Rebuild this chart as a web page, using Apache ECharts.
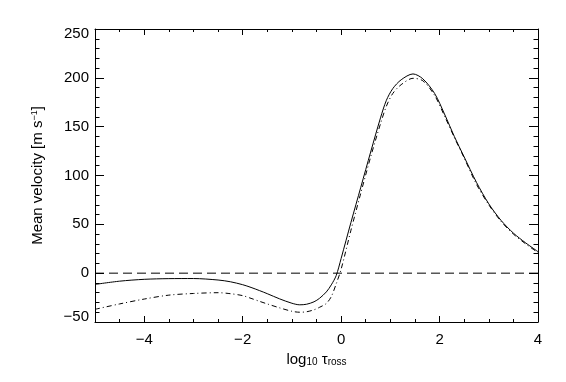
<!DOCTYPE html>
<html><head><meta charset="utf-8">
<script src="https://cdn.jsdelivr.net/npm/echarts@6/dist/echarts.min.js"></script>
<style>html,body{margin:0;padding:0;background:#fff}#c{width:566px;height:382px}</style>
</head><body><div id="c"></div>
<script>
var xs = [-5,-4.5,-4,-3.5,-3,-2.5,-2.25,-2,-1.83,-1.66,-1.5,-1.25,-1,-0.84,-0.7,-0.55,-0.44,-0.3,-0.2,-0.1,0,0.2,0.4,0.6,0.8,0.92,1.05,1.22,1.46,1.66,1.9,2.1,2.3,2.5,2.75,3,3.25,3.5,3.75,4];
var solidV = [-11.5,-8.2,-6.3,-5.6,-5.5,-7,-8.8,-11.8,-14.6,-17.8,-21,-26.3,-30.8,-32.4,-31.8,-29.3,-25.8,-19.2,-12,-2.5,15,52,88,124,159,177,189,198,204,199,184,163,140,119,93,71,54,41,31,22];
var dashDotV = [-37,-31.5,-26.5,-22.5,-20.8,-20,-21,-23,-25.8,-28.8,-31.5,-35.5,-39,-40,-39.5,-37.5,-35,-31,-24,-11,4,44,82,119,153,171,184,193,199.5,197,182,161,139,118,91,70,53,40,30,21];
var zeroLine = [[-5,0],[4,0]];
var xMajorTicks = [-4,-2,0,2,4];
var xMin = -5, xMax = 4, yMin = -50, yMax = 250;

var font = 'Liberation Sans, Arial, Helvetica, sans-serif';
function fmtNum(v){ return (v < 0 ? '\u2212' + Math.abs(v) : String(v)); }
function pairs(x, y){ return x.map(function(v,i){ return [v, y[i]]; }); }

var lineCol = '#000';
function xAxisMinor(pos, showLabel, name){
  var a = {
    type:'value', position:pos, min:xMin, max:xMax, interval:0.5,
    axisLine:{show:true, onZero:false, lineStyle:{color:lineCol,width:1}},
    axisTick:{show:true, inside:true, length:3, lineStyle:{color:lineCol}},
    splitLine:{show:false},
    axisLabel:{show:showLabel, margin:10, fontFamily:font, fontSize:15, color:'#000',
      formatter:function(v){ return (Math.abs(v % 2) < 1e-9) ? fmtNum(v) : ''; }}
  };
  if (name) {
    a.name = name; a.nameLocation='middle'; a.nameGap=28;
    a.nameTextStyle = {fontFamily:font, fontSize:15, color:'#000',
      rich:{ sub:{fontFamily:font, fontSize:10, color:'#000', verticalAlign:'bottom', padding:[6,0,0,0]} }};
  }
  return a;
}
function xAxisMajor(pos){
  return {
    type:'value', position:pos, min:xMin, max:xMax, interval:0.5,
    axisLine:{show:false, onZero:false},
    axisTick:{show:true, inside:true, length:6, customValues:xMajorTicks, lineStyle:{color:lineCol}},
    splitLine:{show:false}, axisLabel:{show:false}
  };
}
function yAxis(pos, showLabel, name){
  var a = {
    type:'value', position:pos, min:yMin, max:yMax, interval:50,
    axisLine:{show:true, onZero:false, lineStyle:{color:lineCol,width:1}},
    axisTick:{show:true, inside:true, length:9, lineStyle:{color:lineCol}},
    minorTick:{show:true, splitNumber:5, length:4.5, lineStyle:{color:lineCol}},
    splitLine:{show:false},
    axisLabel:{show:showLabel, margin:6, fontFamily:font, fontSize:15, color:'#000',
      formatter:function(v){
        if (v === yMax) return '{top|' + fmtNum(v) + '}';
        if (v === yMin) return '{bot|' + fmtNum(v) + '}';
        return fmtNum(v);
      },
      rich:{
        top:{fontFamily:font, fontSize:15, color:'#000', padding:[10,0,0,0]},
        bot:{fontFamily:font, fontSize:15, color:'#000', padding:[0,0,10,0]}
      }}
  };
  if (name) {
    a.name = name; a.nameLocation='middle'; a.nameGap=50;
    a.nameTextStyle = {fontFamily:font, fontSize:15, color:'#000',
      rich:{ sup:{fontFamily:font, fontSize:9, color:'#000', verticalAlign:'top', padding:[0,0,6,0]} }};
  }
  return a;
}

var chart = echarts.init(document.getElementById('c'), null, {renderer:'canvas'});
chart.setOption({
  animation:false,
  backgroundColor:'#fff',
  grid:{left:95, right:28, top:29, bottom:60, containLabel:false},
  xAxis:[
    xAxisMinor('bottom', true, 'log{sub|10} \u03c4{sub|ross}'),
    xAxisMinor('top', false),
    xAxisMajor('bottom'),
    xAxisMajor('top')
  ],
  yAxis:[
    yAxis('left', true, 'Mean velocity [m s{sup|\u22121}]'),
    yAxis('right', false)
  ],
  series:[
    {type:'line', data:pairs(xs, solidV), showSymbol:false, smooth:0.3,
      lineStyle:{color:'#000', width:1}},
    {type:'line', data:pairs(xs, dashDotV), showSymbol:false, smooth:0.3,
      lineStyle:{color:'#000', width:1, type:[5,3,1,3]}},
    {type:'line', data:zeroLine, showSymbol:false,
      lineStyle:{color:'#000', width:1, type:[9,5]}}
  ]
});
</script></body></html>
